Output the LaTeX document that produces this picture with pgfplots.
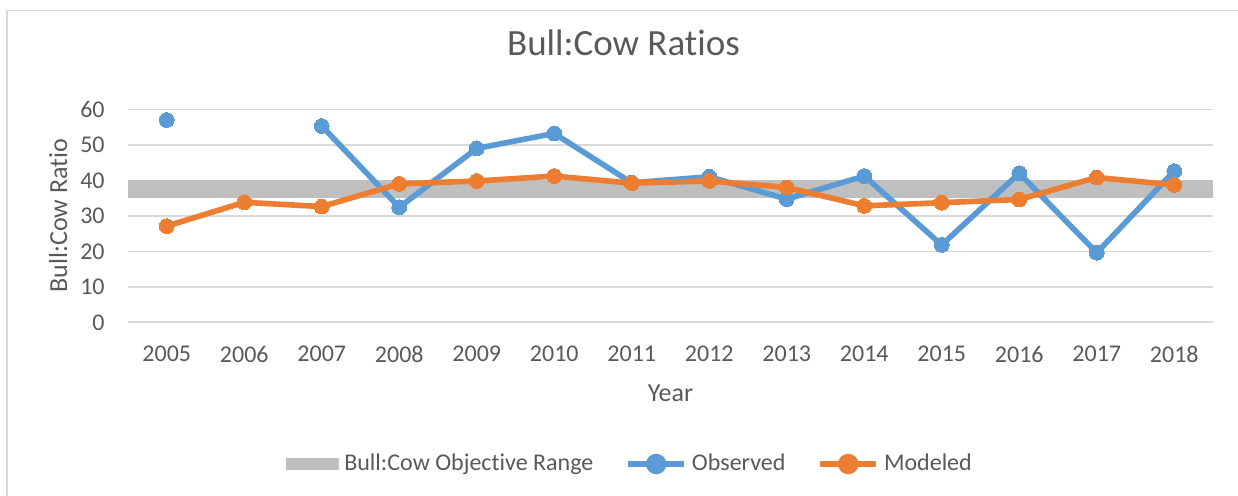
\documentclass[border=0pt]{standalone}
\usepackage{pgfplots}
\pgfplotsset{compat=1.18}
\usepackage{fontspec}
\setmainfont{Carlito}[Ligatures={NoCommon}]
\definecolor{obsblue}{HTML}{5B9BD5}
\definecolor{modorange}{HTML}{ED7D31}
\definecolor{bandgray}{HTML}{BFBFBF}
\definecolor{gridgray}{HTML}{D9D9D9}
\definecolor{textgray}{HTML}{595959}
\begin{document}
\begin{tikzpicture}
\useasboundingbox (0pt,0pt) rectangle (619pt,247.5pt);
\draw[gridgray, line width=0.6pt] (3.5pt,-2pt) -- (3.5pt,242.25pt) -- (622pt,242.25pt);
\begin{axis}[
  at={(64pt,86.35pt)}, anchor=south west,
  width=542.5pt, height=106.5pt, scale only axis,
  xmin=-0.5, xmax=13.5, ymin=0, ymax=60,
  xtick={0,...,13},
  xticklabels={2005,2006,2007,2008,2009,2010,2011,2012,2013,2014,2015,2016,2017,2018},
  ytick={0,10,...,60},
  /pgf/number format/assume math mode=true,
  axis line style={draw=none},
  major tick length=0pt, tick style={draw=none},
  ymajorgrids, grid style={gridgray, line width=0.75pt},
  extra y ticks={0}, extra y tick labels={}, extra y tick style={grid style={gridgray,line width=0.9pt}},
  ticklabel style={font=\fontsize{12}{14}\selectfont, text=textgray, inner sep=0pt},
  yticklabel style={anchor=east, xshift=-11.5pt},
  xticklabel style={anchor=north, yshift=-11.8pt},
  title={Bull:Cow Ratios},
  title style={at={(axis description cs:0.4567,1.1986)}, anchor=base, font=\fontsize{18.5}{22}\selectfont, text=textgray, inner sep=0pt},
  xlabel={Year},
  xlabel style={at={(axis description cs:0.5,-0.3695)}, anchor=base, font=\fontsize{13}{15}\selectfont, text=textgray, inner sep=0pt},
  ylabel={Bull:Cow Ratio},
  ylabel style={at={(axis description cs:-0.0562,0.5)}, anchor=base, rotate=0, font=\fontsize{13}{15}\selectfont, text=textgray, inner sep=0pt},
  unbounded coords=jump,
  legend columns=3,
  legend style={draw=none, fill=none, at={(axis description cs:0.4618,-0.6653)}, anchor=center,
    font=\fontsize{12}{14}\selectfont, text=textgray,
    nodes={inner sep=0pt},
    /tikz/every odd column/.append style={column sep=2.5pt},
    /tikz/every even column/.append style={column sep=16pt}},
]
\addplot[fill=bandgray, draw=none,
  legend image code/.code={\fill[bandgray] (0pt,-3.2pt) rectangle (26.5pt,3.2pt);}]
  coordinates {(-0.5,35) (13.5,35) (13.5,40) (-0.5,40)} -- cycle;
\addlegendentry{Bull:Cow Objective Range}
\addplot[obsblue, line width=2.8pt, mark=*, mark size=3.7pt, mark options={fill=obsblue, draw=obsblue, line width=0pt},
  legend image code/.code={\draw[obsblue, line width=2.8pt] (0pt,0pt) -- (28pt,0pt); \fill[obsblue] (14pt,0pt) circle (3.7pt);}]
  coordinates {(0,57) (1,nan) (2,55.3) (3,32.4) (4,49.0) (5,53.2) (6,39.3) (7,41.0) (8,34.7) (9,41.2) (10,21.8) (11,42.0) (12,19.6) (13,42.6)};
\addlegendentry{Observed}
\addplot[modorange, line width=2.8pt, mark=*, mark size=3.7pt, mark options={fill=modorange, draw=modorange, line width=0pt},
  legend image code/.code={\draw[modorange, line width=2.8pt] (0pt,0pt) -- (28pt,0pt); \fill[modorange] (14pt,0pt) circle (3.7pt);}]
  coordinates {(0,27.1) (1,33.8) (2,32.6) (3,39.0) (4,39.8) (5,41.2) (6,39.2) (7,39.8) (8,38.0) (9,32.8) (10,33.7) (11,34.6) (12,40.8) (13,38.7)};
\addlegendentry{Modeled}
\end{axis}
\end{tikzpicture}
\end{document}
